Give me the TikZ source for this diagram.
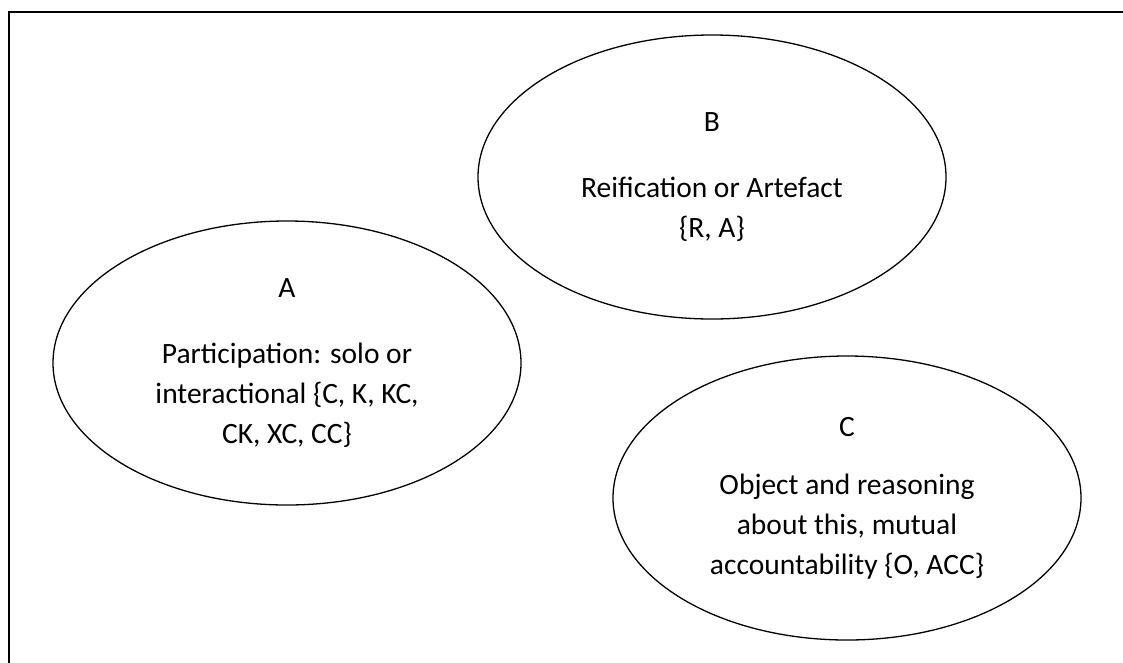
\documentclass[tikz,border=0pt]{standalone}
\usepackage{fontspec}
\setmainfont{Carlito}
\usetikzlibrary{shapes.geometric}
\begin{document}
\begin{tikzpicture}[x=1pt,y=-1pt,
    blob/.style={ellipse,draw,line width=1.3pt,minimum width=468pt,minimum height=284pt,
      inner sep=0pt,align=center,font=\fontsize{29.5}{40}\selectfont}]
  \useasboundingbox (0,0) rectangle (1123,662);
  % frame, only its top and left edges are inside the picture
  \coordinate (fl) at (9,670);
  \coordinate (fr) at (1130,12);
  \draw[line width=2.2pt] (fl) |- (fr);
  \node[blob] (A) at (287,363) {A\\[26pt]Participation: solo or\\interactional \{C, K, KC,\\CK, XC, CC\}};
  \node[blob] (B) at (712,177) {B\\[26pt]Reification or Artefact\\\{R, A\}};
  \node[blob] (C) at (847,498) {C\\[18pt]Object and reasoning\\about this, mutual\\accountability \{O, ACC\}};
\end{tikzpicture}
\end{document}
